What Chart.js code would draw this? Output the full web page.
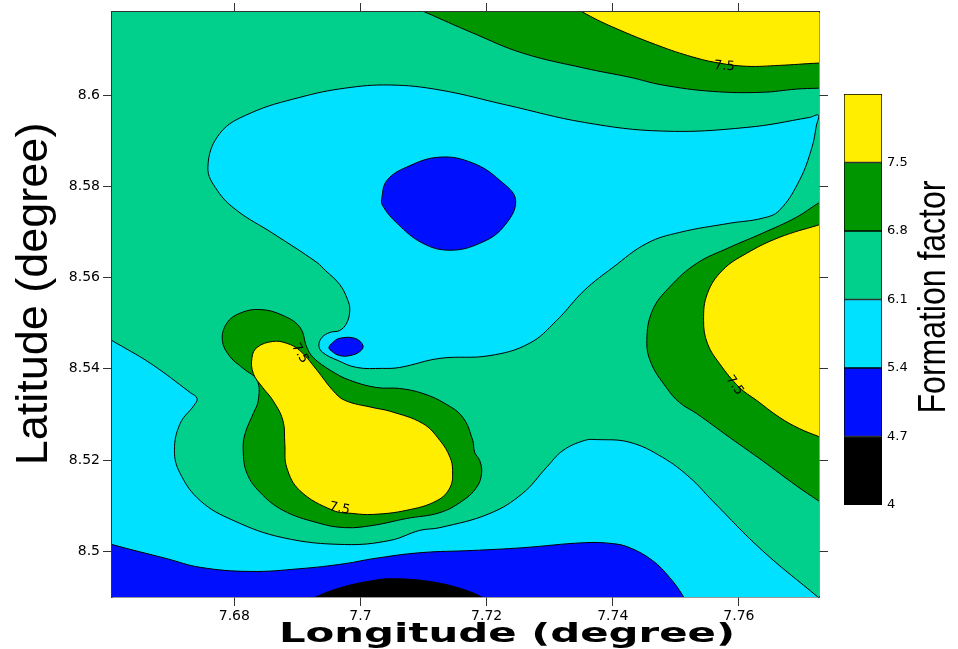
<!DOCTYPE html>
<html>
<head>
<meta charset="utf-8">
<title>Formation factor map</title>
<script src="https://cdn.jsdelivr.net/npm/chart.js@4"></script>
<style>
    body { margin: 0; background: white; }
    #wrap { position: relative; width: 958px; height: 649px; }
    #map { position: absolute; left: 0; top: 0; }
    #bar { position: absolute; left: 830px; top: 0; }
</style>
</head>
<body>
<div id="wrap">
    <canvas id="map" width="958" height="649"></canvas>
    <canvas id="bar" width="128" height="649"></canvas>
</div>
<script>
// axes
const lonRange = [7.6606, 7.7727];
const latRange = [8.49, 8.6182];
const lonTicks = [7.68, 7.70, 7.72, 7.74, 7.76];
const lonTickLabels = ['7.68', '7.7', '7.72', '7.74', '7.76'];
const latTicks = [8.50, 8.52, 8.54, 8.56, 8.58, 8.60];
const latTickLabels = ['8.5', '8.52', '8.54', '8.56', '8.58', '8.6'];
const xTitle = 'Longitude (degree)';
const yTitle = 'Latitude (degree)';
const barTitle = 'Formation factor';

// formation factor classes (colour bar)
const levels = [4, 4.7, 5.4, 6.1, 6.8, 7.5, 8.2];
const levelLabels = ['4', '4.7', '5.4', '6.1', '6.8', '7.5'];
const bandColors = ['#000000', '#0010ff', '#00e0ff', '#00d08c', '#009600', '#ffee00'];
const baseBand = 3; // 6.1 - 6.8 everywhere else

// contour polygons [lon, lat]
const cyanUpper = [[7.6758, 8.5842], [7.6777, 8.5916], [7.6825, 8.5960], [7.6904, 8.5995], [7.6975, 8.6015],
    [7.7047, 8.6022], [7.7126, 8.6011], [7.7232, 8.5978], [7.7355, 8.5940], [7.7479, 8.5921], [7.7612, 8.5929],
    [7.7712, 8.5951], [7.7726, 8.5956], [7.7723, 8.5934], [7.7716, 8.5886], [7.7696, 8.5813], [7.7664, 8.5747],
    [7.7637, 8.5730], [7.7585, 8.5719], [7.7506, 8.5699], [7.7454, 8.5675], [7.7400, 8.5622], [7.7355, 8.5572],
    [7.7311, 8.5506], [7.7268, 8.5456], [7.7205, 8.5429], [7.7126, 8.5423], [7.7062, 8.5403], [7.7035, 8.5401],
    [7.6994, 8.5403], [7.6963, 8.5419], [7.6940, 8.5436], [7.6934, 8.5451], [7.6939, 8.5469], [7.6952, 8.5480],
    [7.6967, 8.5484], [7.6978, 8.5500], [7.6983, 8.5528], [7.6980, 8.5550], [7.6967, 8.5585], [7.6944, 8.5616],
    [7.6931, 8.5633], [7.6861, 8.5697], [7.6804, 8.5747], [7.6773, 8.5791]];
const cyanLower = [[7.6587, 8.5478], [7.6606, 8.5462], [7.6667, 8.5412], [7.6730, 8.5348], [7.6741, 8.5335],
    [7.6736, 8.5320], [7.6714, 8.5280], [7.6705, 8.5221], [7.6714, 8.5171], [7.6746, 8.5111], [7.6798, 8.5068],
    [7.6877, 8.5030], [7.6975, 8.5015], [7.7047, 8.5024], [7.7094, 8.5046], [7.7126, 8.5052], [7.7205, 8.5083],
    [7.7257, 8.5127], [7.7295, 8.5184], [7.7321, 8.5221], [7.7355, 8.5243], [7.7374, 8.5245], [7.7427, 8.5239],
    [7.7479, 8.5206], [7.7522, 8.5162], [7.7558, 8.5111], [7.7637, 8.5002], [7.7726, 8.4899], [7.7743, 8.4879],
    [7.7743, 8.4848], [7.6587, 8.4848]];
const blueCenter = [[7.7034, 8.5776], [7.7042, 8.5813], [7.7073, 8.5842], [7.7126, 8.5864], [7.7178, 8.5851],
    [7.7221, 8.5813], [7.7246, 8.5769], [7.7226, 8.5710], [7.7189, 8.5675], [7.7142, 8.5660], [7.7099, 8.5675],
    [7.7058, 8.5719], [7.7035, 8.5758]];
const blueSmall = [[7.6950, 8.5447], [7.6958, 8.5460], [7.6967, 8.5467], [7.6991, 8.5467], [7.7004, 8.5451],
    [7.6999, 8.5438], [7.6983, 8.5429], [7.6967, 8.5429], [7.6955, 8.5438]];
const blueBottom = [[7.6587, 8.5024], [7.6606, 8.5015], [7.6693, 8.4984], [7.6746, 8.4965], [7.6825, 8.4956],
    [7.6904, 8.4962], [7.6975, 8.4973], [7.7020, 8.4984], [7.7094, 8.4997], [7.7178, 8.5002], [7.7257, 8.5008],
    [7.7355, 8.5019], [7.7400, 8.5017], [7.7427, 8.5008], [7.7463, 8.4980], [7.7490, 8.4943], [7.7511, 8.4903],
    [7.7518, 8.4879], [7.6587, 8.4879]];
const blackBottom = [[7.6920, 8.4888], [7.6931, 8.4901], [7.6975, 8.4923], [7.7020, 8.4936], [7.7047, 8.4940],
    [7.7099, 8.4936], [7.7153, 8.4921], [7.7194, 8.4899], [7.7205, 8.4886]];
const greenTop = [[7.7077, 8.6197], [7.7102, 8.6182], [7.7178, 8.6136], [7.7257, 8.6092], [7.7355, 8.6059],
    [7.7427, 8.6039], [7.7479, 8.6022], [7.7558, 8.6008], [7.7637, 8.6006], [7.7691, 8.6013], [7.7726, 8.6015],
    [7.7743, 8.6015], [7.7743, 8.6208], [7.7077, 8.6208]];
const greenLeft = [[7.6781, 8.5462], [7.6788, 8.5500], [7.6809, 8.5522], [7.6841, 8.5530], [7.6877, 8.5517],
    [7.6904, 8.5491], [7.6915, 8.5447], [7.6925, 8.5425], [7.6952, 8.5397], [7.6983, 8.5375], [7.7026, 8.5359],
    [7.7062, 8.5357], [7.7099, 8.5346], [7.7134, 8.5324], [7.7162, 8.5294], [7.7178, 8.5243], [7.7181, 8.5217],
    [7.7189, 8.5199], [7.7192, 8.5171], [7.7184, 8.5140], [7.7162, 8.5111], [7.7126, 8.5085], [7.7073, 8.5072],
    [7.7020, 8.5057], [7.6975, 8.5052], [7.6931, 8.5063], [7.6877, 8.5090], [7.6841, 8.5129], [7.6820, 8.5171],
    [7.6814, 8.5221], [7.6817, 8.5258], [7.6830, 8.5302], [7.6838, 8.5331], [7.6836, 8.5375], [7.6814, 8.5401],
    [7.6793, 8.5427]];
const greenRight = [[7.7743, 8.5774], [7.7726, 8.5763], [7.7691, 8.5732], [7.7637, 8.5697], [7.7585, 8.5666],
    [7.7533, 8.5631], [7.7490, 8.5579], [7.7463, 8.5528], [7.7454, 8.5462], [7.7461, 8.5412], [7.7485, 8.5359],
    [7.7506, 8.5326], [7.7533, 8.5302], [7.7585, 8.5250], [7.7637, 8.5199], [7.7691, 8.5144], [7.7726, 8.5111],
    [7.7743, 8.5096]];
const yellowTop = [[7.7340, 8.6195], [7.7352, 8.6182], [7.7400, 8.6149], [7.7479, 8.6105], [7.7533, 8.6081],
    [7.7569, 8.6070], [7.7612, 8.6063], [7.7664, 8.6065], [7.7726, 8.6070], [7.7743, 8.6070], [7.7743, 8.6208],
    [7.7340, 8.6208]];
const yellowLeft = [[7.6828, 8.5425], [7.6836, 8.5447], [7.6861, 8.5460], [7.6883, 8.5456], [7.6904, 8.5440],
    [7.6931, 8.5397], [7.6956, 8.5353], [7.6975, 8.5331], [7.7020, 8.5315], [7.7047, 8.5307], [7.7099, 8.5280],
    [7.7126, 8.5243], [7.7142, 8.5206], [7.7146, 8.5177], [7.7142, 8.5140], [7.7121, 8.5111], [7.7073, 8.5090],
    [7.7020, 8.5081], [7.6988, 8.5083], [7.6956, 8.5090], [7.6904, 8.5133], [7.6883, 8.5184], [7.6880, 8.5236],
    [7.6877, 8.5287], [7.6861, 8.5331], [7.6845, 8.5359], [7.6830, 8.5390]];
const yellowRight = [[7.7743, 8.5721], [7.7726, 8.5715], [7.7664, 8.5688], [7.7612, 8.5653], [7.7574, 8.5616],
    [7.7550, 8.5565], [7.7544, 8.5506], [7.7550, 8.5456], [7.7569, 8.5412], [7.7601, 8.5359], [7.7628, 8.5331],
    [7.7664, 8.5294], [7.7696, 8.5269], [7.7726, 8.5252], [7.7743, 8.5243]];

// contour labels [lon, lat, angle in degrees]
const contourText = '7.5';
const contourLabels = [[7.7577, 8.6063, 4], [7.7593, 8.5364, 55], [7.6904, 8.5434, 60], [7.6967, 8.5094, 12]];

// bottom to top
const layers = [
    [2, cyanUpper], [2, cyanLower],
    [1, blueCenter], [1, blueSmall], [1, blueBottom],
    [0, blackBottom],
    [4, greenTop], [4, greenLeft], [4, greenRight],
    [5, yellowTop], [5, yellowLeft], [5, yellowRight]
];

Chart.defaults.font.family = 'DejaVu Sans';
Chart.defaults.color = '#000';

const datasets = layers.map(([band, poly], i) => ({
    data: poly.map(p => ({ x: p[0], y: p[1] })),
    backgroundColor: bandColors[band],
    borderColor: '#000',
    borderWidth: 1,
    fill: 'shape',
    tension: 0.4,
    capBezierPoints: false,
    pointRadius: 0,
    clip: 0,
    order: layers.length - i
}));

const frame = { color: '#333', width: 1.5 };
const tickGrid = { drawOnChartArea: false, drawTicks: true, tickLength: 9, color: '#333' };

function lonAxis(position, size, labels) {
    return {
        type: 'linear', axis: 'x', position: position,
        min: lonRange[0], max: lonRange[1],
        afterBuildTicks: s => { s.ticks = lonTicks.map(v => ({ value: v })); },
        afterFit: s => { s.height = size; },
        ticks: { display: labels, font: { size: 14 }, padding: 2, maxRotation: 0, callback: (v, i) => lonTickLabels[i] },
        grid: tickGrid, border: frame
    };
}

function latAxis(position, size, labels) {
    return {
        type: 'linear', axis: 'y', position: position,
        min: latRange[0], max: latRange[1],
        afterBuildTicks: s => { s.ticks = latTicks.map(v => ({ value: v })); },
        afterFit: s => { s.width = size; },
        ticks: { display: labels, font: { size: 14 }, padding: 3, callback: (v, i) => latTickLabels[i] },
        grid: tickGrid, border: frame
    };
}

function drawTitle(ctx, text, x, y, angle, sx, font) {
    ctx.save();
    ctx.translate(x, y);
    ctx.rotate(angle);
    ctx.scale(sx, 1);
    ctx.font = font;
    ctx.fillStyle = '#000';
    ctx.textAlign = 'center';
    ctx.textBaseline = 'alphabetic';
    ctx.fillText(text, 0, 0);
    ctx.restore();
}

const mapPlugin = {
    id: 'mapExtras',
    afterDatasetsUpdate(chart) {
        // contours are closed rings
        chart.getSortedVisibleDatasetMetas().forEach(m => {
            m.dataset._loop = true;
            m.dataset._fullLoop = true;
        });
    },
    beforeDatasetsDraw(chart) {
        const { ctx, chartArea: a } = chart;
        ctx.save();
        ctx.fillStyle = bandColors[baseBand];
        ctx.fillRect(a.left, a.top, a.right - a.left, a.bottom - a.top);
        ctx.restore();
    },
    afterDatasetsDraw(chart) {
        const { ctx, chartArea: a, scales } = chart;
        ctx.save();
        ctx.beginPath();
        ctx.rect(a.left, a.top, a.right - a.left, a.bottom - a.top);
        ctx.clip();
        ctx.font = '13px DejaVu Sans';
        ctx.fillStyle = '#000';
        ctx.textAlign = 'center';
        ctx.textBaseline = 'middle';
        contourLabels.forEach(([lon, lat, ang]) => {
            ctx.save();
            ctx.translate(scales.x.getPixelForValue(lon), scales.y.getPixelForValue(lat));
            ctx.rotate(ang * Math.PI / 180);
            ctx.fillText(contourText, 0, 0);
            ctx.restore();
        });
        ctx.restore();
    },
    afterDraw(chart) {
        drawTitle(chart.ctx, xTitle, 507, 642, 0, 1.55, 'bold 27px DejaVu Sans');
        drawTitle(chart.ctx, yTitle, 47, 294, -Math.PI / 2, 1, '45px Liberation Sans');
    }
};

new Chart(document.getElementById('map'), {
    type: 'line',
    data: { datasets: datasets },
    options: {
        responsive: false,
        devicePixelRatio: 1,
        animation: false,
        layout: { padding: 0 },
        plugins: { legend: { display: false }, tooltip: { enabled: false } },
        scales: {
            x: lonAxis('bottom', 52, true),
            x2: lonAxis('top', 12, false),
            y: latAxis('left', 112, true),
            y2: latAxis('right', 139, false)
        }
    },
    plugins: [mapPlugin]
});

// colour bar
const barDatasets = bandColors.map((c, i) => ({
    data: [[levels[i], levels[i + 1]]],
    backgroundColor: c,
    borderColor: '#000',
    borderWidth: 1,
    borderSkipped: false,
    grouped: false,
    barPercentage: 1,
    categoryPercentage: 1
}));

const barTitlePlugin = {
    id: 'barTitle',
    afterDraw(chart) {
        drawTitle(chart.ctx, barTitle, 115, 297, -Math.PI / 2, 0.82, '39px Liberation Sans');
    }
};

new Chart(document.getElementById('bar'), {
    type: 'bar',
    data: { labels: ['FF'], datasets: barDatasets },
    options: {
        responsive: false,
        devicePixelRatio: 1,
        animation: false,
        layout: { padding: { left: 14, top: 94, bottom: 144, right: 0 } },
        plugins: { legend: { display: false }, tooltip: { enabled: false } },
        scales: {
            x: { display: false },
            y: {
                position: 'right', min: levels[0], max: levels[levels.length - 1],
                afterBuildTicks: s => { s.ticks = levelLabels.map((t, i) => ({ value: levels[i] })); },
                afterFit: s => { s.width = 76; },
                ticks: { font: { size: 13 }, padding: 5, callback: (v, i) => levelLabels[i] },
                grid: { display: false, drawTicks: false },
                border: { display: false }
            }
        }
    },
    plugins: [barTitlePlugin]
});
</script>
</body>
</html>
